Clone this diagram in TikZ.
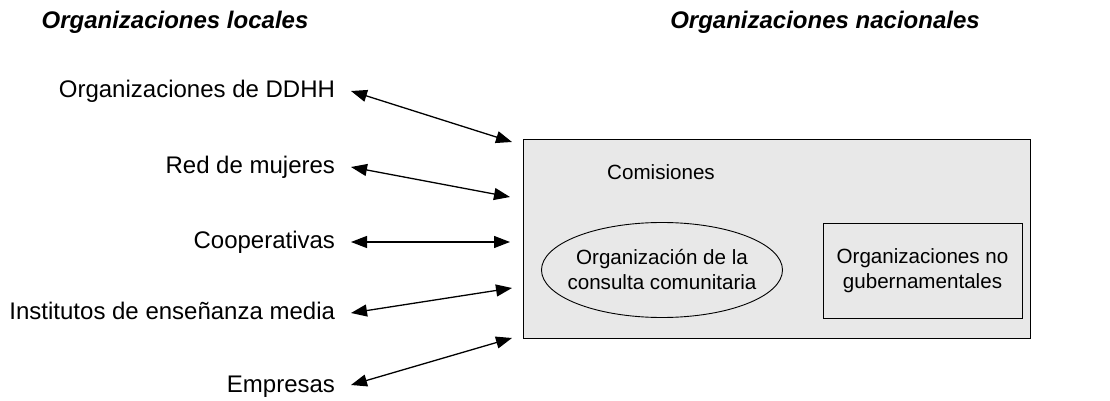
\documentclass[tikz,border=0pt]{standalone}
\usepackage{fontspec}
\setmainfont{Liberation Sans}
\usetikzlibrary{arrows.meta,shapes.geometric}
\definecolor{boxgray}{RGB}{232,232,232}

\begin{document}
\begin{tikzpicture}[x=0.5pt,y=-0.5pt,
    head/.style={font=\fontsize{12}{14}\selectfont\bfseries\itshape},
    local/.style={anchor=east,inner sep=4pt,outer sep=4pt,text height=0.8em,text depth=0.1em,font=\fontsize{12}{14}\selectfont},
    inside/.style={draw,line width=0.45pt,inner sep=0pt,align=center,minimum height=47.5pt,font=\fontsize{10.3}{12.5}\selectfont},
    link/.style={{Triangle[length=8pt,width=6pt]}-{Triangle[length=8pt,width=6pt]},line width=0.65pt}]
                \useasboundingbox (0,0) rectangle (1110,401);

                % Headings
                \node[head] (hloc) at (175,22) {Organizaciones locales};
                \node[head] (hnac) at (825,22) {Organizaciones nacionales};

                % National box
                \filldraw[fill=boxgray,line width=0.5pt] (523,140) rectangle (1030,338);
                \node[font=\fontsize{10.3}{12.5}\selectfont] (comis) at (661,172) {Comisiones};
                \node[inside,ellipse,inner xsep=-15pt,minimum width=120.5pt] (consulta) at (662,270) {Organización de la\\consulta comunitaria};
                \node[inside,rectangle,minimum width=99.5pt] (ong) at (922.5,270.5) {Organizaciones no\\gubernamentales};

                % Local organizations
                \node[local] (ddhh) at (351,91) {Organizaciones de DDHH};
                \node[local] (mujeres) at (351,167) {Red de mujeres};
                \node[local] (coop) at (351,242) {Cooperativas};
                \node[local] (inst) at (351,313) {Institutos de enseñanza media};
                \node[local] (empr) at (351,385) {Empresas};

                % Arrow ends at the box
                \coordinate (e1) at (512,142);
                \coordinate (e2) at (510,197);
                \coordinate (e3) at (510,242);
                \coordinate (e4) at (512,288);
                \coordinate (e5) at (512,338);

                % Links
                \draw[link] (ddhh.east) -- (e1);
                \draw[link] (mujeres.east) -- (e2);
                \draw[link] (coop.east) -- (e3);
                \draw[link] (inst.east) -- (e4);
                \draw[link] (empr.east) -- (e5);
            \end{tikzpicture}
\end{document}
